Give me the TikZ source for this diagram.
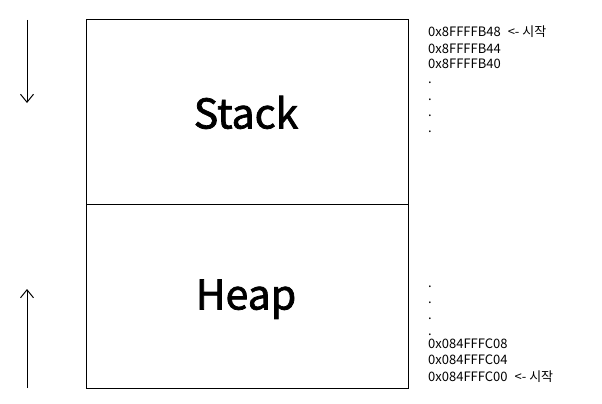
\documentclass[tikz,border=0pt]{standalone}
\usepackage{fontspec}
\setmainfont{Noto Sans CJK KR}
\newfontfamily\regionfont[FakeBold=1.8]{Noto Sans CJK KR}
\usetikzlibrary{positioning,arrows.meta}
\tikzset{
	% memory regions and address labels
	mem box/.style={draw,line width=1pt,minimum width=322pt,minimum height=184pt,inner sep=0,outer sep=0},
	region label/.style={anchor=base,inner sep=0,font=\regionfont\fontsize{41}{41}\selectfont},
	addr/.style={anchor=base west,inner sep=0,font=\fontsize{13}{13}\selectfont},
	grow arrow/.style={line width=1pt,-{Straight Barb[length=8pt,width=13pt]}}
}

\begin{document}
\begin{tikzpicture}[x=1pt,y=-1pt]
	\useasboundingbox (0,0) rectangle (602,404);
	% the two regions
	\node(stack)[mem box] at (247,112){};
	\node(heap)[mem box,below=0pt of stack]{};
	\node(stack-text)[region label] at (246,128.5){Stack};
	\node(heap-text)[region label] at (246,309.5){Heap};
	
	% growth directions
	\coordinate(s0) at (27,20);
	\coordinate(s1) at (27,103);
	\coordinate(h0) at (27,388);
	\coordinate(h1) at (27,289);
	\draw[grow arrow](s0) -- (s1);
	\draw[grow arrow](h0) -- (h1);
	
	% stack addresses
	\node(a0)[addr] at (428,37){0x8FFFFB48\hspace{7pt}<- 시작};
	\node(a1)[addr] at (428,53){0x8FFFFB44};
	\node(a2)[addr] at (428,69){0x8FFFFB40};
	\foreach \y/\n in {84/1,100/2,116/3,132/4}
		\node(sd\n)[addr] at (428,\y){.};
	
	% heap addresses
	\foreach \y/\n in {287/1,303/2,319/3,335/4}
		\node(hd\n)[addr] at (428,\y){.};
	\node(b2)[addr] at (428,348.5){0x084FFFC08};
	\node(b1)[addr] at (428,364.5){0x084FFFC04};
	\node(b0)[addr] at (428,381){0x084FFFC00\hspace{7pt}<- 시작};
\end{tikzpicture}
\end{document}
